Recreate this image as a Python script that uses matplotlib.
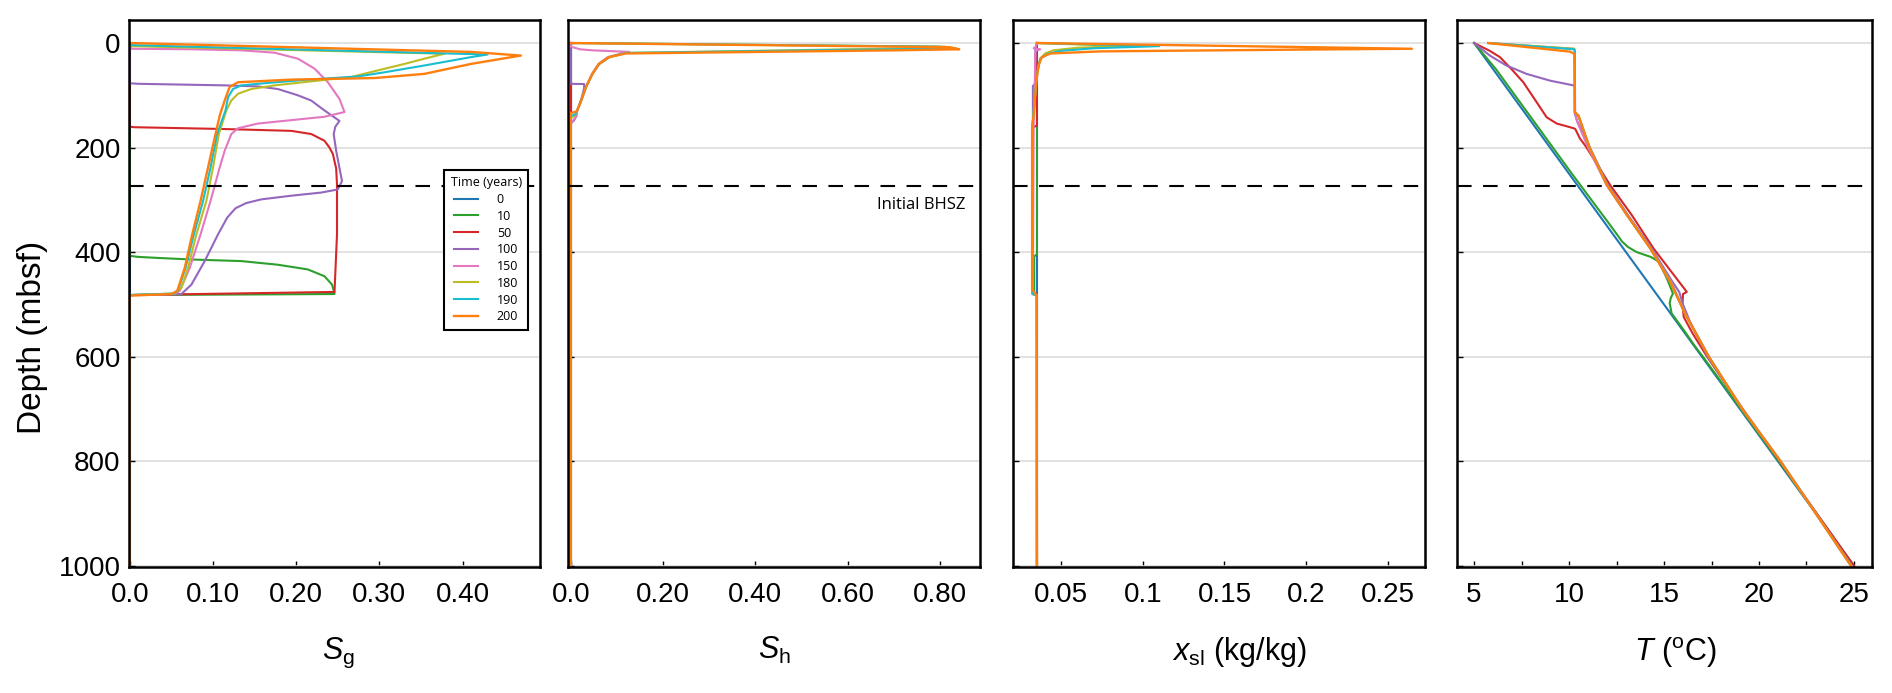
import matplotlib
matplotlib.use("Agg")
import matplotlib.pyplot as plt
import matplotlib.transforms as mtransforms
import numpy as np

plt.rcParams['font.family'] = ['Liberation Sans', 'DejaVu Sans']
plt.rcParams['mathtext.fontset'] = 'custom'
plt.rcParams['mathtext.rm'] = 'Liberation Sans'
plt.rcParams['mathtext.it'] = 'Liberation Sans:italic'

TIMES = [0, 10, 50, 100, 150, 180, 190, 200]
COLORS = ['#1f77b4', '#2ca02c', '#d62728', '#9467bd',
          '#e377c2', '#bcbd22', '#17becf', '#ff7f0e']
BHSZ = 273  # initial base of hydrate stability zone (mbsf)

# gas saturation, [depth, Sg]
sg_0 = [[0, 0], [1000, 0]]
sg_10 = [[0, 0], [407, 0], [409, 0.01], [411, 0.034], [414, 0.074], [417, 0.134],
         [424, 0.178], [433, 0.214], [446, 0.234], [462, 0.243], [478, 0.246],
         [480, 0.246], [482, 0], [1000, 0]]
sg_50 = [[0, 0], [160, 0], [161, 0.005], [164.5, 0.114], [168, 0.194], [174, 0.218],
         [187, 0.234], [200, 0.24], [212, 0.244], [240, 0.248], [270, 0.249],
         [366, 0.249], [476, 0.246], [482, 0], [1000, 0]]
sg_100 = [[0, 0], [77, 0], [78, 0.01], [81, 0.114], [83, 0.154], [88, 0.178],
          [100, 0.202], [110, 0.218], [129, 0.234], [149, 0.252], [160, 0.247],
          [174, 0.245], [206, 0.248], [264, 0.255], [280, 0.25], [286, 0.23],
          [292, 0.194], [299, 0.158], [306, 0.14], [316, 0.127], [334, 0.117],
          [366, 0.106], [417, 0.09], [462, 0.074], [480, 0.062], [482, 0],
          [1000, 0]]
sg_150 = [[0, 0], [11, 0.002], [12, 0.074], [14, 0.134], [18.5, 0.174], [30, 0.202],
          [49, 0.222], [75, 0.238], [107, 0.252], [132, 0.258], [141, 0.234],
          [154, 0.154], [163, 0.13], [174, 0.122], [206, 0.114], [238, 0.108],
          [302, 0.097], [366, 0.085], [430, 0.072], [474, 0.06], [480, 0.054],
          [482, 0], [1000, 0]]
sg_180 = [[0, 0], [6, 0.002], [20.5, 0.378], [30, 0.354], [40, 0.33], [54, 0.294],
          [65, 0.266], [74, 0.214], [81, 0.174], [88, 0.146], [97, 0.13],
          [110, 0.122], [129, 0.116], [149, 0.112], [174, 0.107], [238, 0.1],
          [302, 0.092], [366, 0.08], [430, 0.07], [468, 0.062], [479, 0.054],
          [482, 0], [1000, 0]]
sg_190 = [[0, 0], [4, 0.002], [22, 0.43], [27, 0.41], [43, 0.354], [56, 0.306],
          [64, 0.274], [70, 0.214], [78, 0.154], [81, 0.134], [88, 0.124],
          [104, 0.118], [129, 0.115], [142, 0.112], [174, 0.105], [238, 0.097],
          [302, 0.088], [366, 0.077], [430, 0.067], [472, 0.058], [479, 0.054],
          [482, 0], [1000, 0]]
sg_200 = [[0, 0], [17, 0.41], [24, 0.47], [40, 0.41], [59, 0.354], [67, 0.294],
          [70, 0.194], [75, 0.13], [84, 0.12], [110, 0.114], [129, 0.11],
          [139, 0.108], [174, 0.103], [238, 0.094], [302, 0.085], [366, 0.075],
          [430, 0.066], [474, 0.057], [480, 0.05], [483, 0], [1000, 0]]

# hydrate saturation, [depth, Sh]
sh_0 = [[0, 0], [1000, 0]]
sh_10 = [[0, 0], [1000, 0]]
sh_50 = [[0, 0], [1000, 0]]
sh_100 = [[0, 0], [78, 0], [78.5, 0.029], [86, 0.029], [104, 0.024], [129, 0.014],
          [140, 0.012], [148, 0.007], [152, 0.002], [154, 0], [1000, 0]]
sh_150 = [[0, 0], [7, 0], [12, 0.02], [14, 0.047], [17, 0.127], [20, 0.11],
          [27, 0.08], [40, 0.06], [59, 0.046], [84, 0.033], [104, 0.025],
          [116, 0.02], [129, 0.014], [138, 0.012], [145, 0.008], [150, 0.003],
          [152, 0], [1000, 0]]
sh_180 = [[0, 0], [7, 0.81], [10, 0.835], [12, 0.6], [19, 0.12], [27, 0.084],
          [40, 0.062], [59, 0.047], [84, 0.033], [104, 0.025], [116, 0.02],
          [129, 0.014], [138, 0.01], [143, 0], [1000, 0]]
sh_190 = [[0, 0], [7, 0.8], [11, 0.815], [13, 0.6], [19, 0.12], [27, 0.084],
          [40, 0.062], [59, 0.047], [84, 0.033], [104, 0.025], [116, 0.02],
          [129, 0.014], [136, 0.01], [140, 0], [1000, 0]]
sh_200 = [[0, 0], [8, 0.82], [12, 0.842], [14, 0.7], [20, 0.119], [27, 0.083],
          [40, 0.061], [59, 0.047], [84, 0.033], [104, 0.025], [116, 0.02],
          [128, 0.014], [131, 0.012], [134, 0], [1000, 0]]

# salt mass fraction, [depth, xsl]
xs_0 = [[0, 0.0352], [1000, 0.0352]]
xs_10 = [[0, 0.035], [404, 0.035], [408, 0.0333], [479, 0.0333], [482, 0.035],
         [1000, 0.035]]
xs_50 = [[0, 0.035], [158, 0.035], [162, 0.032], [190, 0.032], [480, 0.0325],
         [482, 0.035], [1000, 0.035]]
xs_100 = [[0, 0.035], [12, 0.034], [78, 0.034], [82, 0.0325], [480, 0.0325],
          [482, 0.035], [1000, 0.035]]
xs_150 = [[0, 0.035], [8, 0.034], [10, 0.033], [12, 0.037], [14, 0.0345],
          [20, 0.034], [100, 0.0335], [150, 0.033], [480, 0.0325], [482, 0.035],
          [1000, 0.035]]
xs_180 = [[0, 0.035], [6, 0.09], [9, 0.06], [14, 0.045], [20, 0.04], [30, 0.037],
          [60, 0.035], [130, 0.033], [160, 0.0322], [480, 0.0322], [482, 0.035],
          [1000, 0.035]]
xs_190 = [[0, 0.035], [6, 0.11], [10, 0.07], [15, 0.05], [20, 0.042], [30, 0.037],
          [60, 0.035], [130, 0.033], [160, 0.0322], [480, 0.0322], [482, 0.035],
          [1000, 0.035]]
xs_200 = [[0, 0.035], [11, 0.265], [12.5, 0.2], [16, 0.074], [20, 0.0433],
          [27, 0.038], [42, 0.036], [71, 0.0347], [137, 0.033], [163, 0.032],
          [471, 0.032], [482, 0.0347], [1000, 0.035]]

# temperature, [depth, T]
t_0 = [[0, 5], [1000, 25]]
t_10 = [[0, 5], [50, 6.15], [150, 8.15], [250, 10.15], [350, 12.2], [380, 12.8],
        [390, 13.1], [400, 13.57], [409, 14.3], [418, 14.72], [450, 15.15],
        [479, 15.47], [488, 15.35], [498, 15.3], [517, 15.4], [549, 16.04],
        [581, 16.65], [600, 17.05], [700, 19.05], [800, 21.05], [1000, 25]]
t_50 = [[0, 5], [15, 5.83], [27, 6.36], [50, 6.97], [75, 7.59], [113, 8.29],
        [142, 8.82], [154, 9.35], [161, 10.05], [164, 10.32], [183, 10.58],
        [196, 10.85], [272, 12.17], [329, 13.3], [393, 14.45], [476, 16.2],
        [480, 16.0], [501, 15.97], [524, 16.04], [555, 16.5], [600, 17.27],
        [700, 19.15], [800, 21.1], [1000, 25]]
t_100 = [[0, 5], [24, 5.83], [43, 6.7], [59, 7.76], [72, 9.0], [81, 10.23],
         [82, 10.3], [135, 10.3], [151, 10.45], [200, 11.1], [272, 12.05],
         [329, 13.1], [393, 14.35], [457, 15.45], [476, 15.8], [500, 16.0],
         [536, 16.4], [600, 17.3], [700, 19.12], [800, 21.12], [1000, 24.9]]
t_150 = [[0, 5.74], [11, 10.25], [13, 10.3], [132, 10.32], [150, 10.42],
         [200, 11.0], [272, 11.98], [329, 13.05], [393, 14.3], [457, 15.38],
         [517, 16.12], [600, 17.36], [700, 19.12], [800, 21.14], [1000, 24.87]]
t_180 = [[0, 5.74], [11, 10.27], [14, 10.3], [132, 10.31], [140, 10.5],
         [202, 11.1], [272, 12.0], [329, 13.05], [393, 14.28], [457, 15.35],
         [517, 16.1], [600, 17.36], [700, 19.12], [800, 21.14], [1000, 24.86]]
t_190 = [[0, 5.74], [12, 10.27], [16, 10.3], [132, 10.31], [140, 10.5],
         [202, 11.1], [272, 12.0], [329, 13.05], [393, 14.28], [457, 15.34],
         [517, 16.1], [600, 17.36], [700, 19.12], [800, 21.14], [1000, 24.85]]
t_200 = [[0, 5.74], [16.5, 10.05], [21, 10.28], [132, 10.3], [139, 10.5],
         [202, 11.1], [272, 12.0], [329, 13.05], [393, 14.28], [457, 15.33],
         [517, 16.1], [600, 17.36], [700, 19.12], [800, 21.14], [1000, 24.85]]

SG = [sg_0, sg_10, sg_50, sg_100, sg_150, sg_180, sg_190, sg_200]
SH = [sh_0, sh_10, sh_50, sh_100, sh_150, sh_180, sh_190, sh_200]
XS = [xs_0, xs_10, xs_50, xs_100, xs_150, xs_180, xs_190, xs_200]
TT = [t_0, t_10, t_50, t_100, t_150, t_180, t_190, t_200]

panels = [
    (SG, r'$S_{\rm g}$', (-0.001, 0.493), [0, 0.1, 0.2, 0.3, 0.4],
     ['0.0', '0.10', '0.20', '0.30', '0.40'], 0.51),
    (SH, r'$S_{\rm h}$', (-0.006, 0.887), [0, 0.2, 0.4, 0.6, 0.8],
     ['0.0', '0.20', '0.40', '0.60', '0.80'], 0.5),
    (XS, r'$x_{\rm sl}$ (kg/kg)', (0.0203, 0.273), [0.05, 0.1, 0.15, 0.2, 0.25],
     ['0.05', '0.1', '0.15', '0.2', '0.25'], 0.55),
    (TT, r'$T$ ($^{\rm o}$C)', (4.1, 25.95), [5, 10, 15, 20, 25],
     ['5', '10', '15', '20', '25'], 0.525),
]

W, H = 1892, 693
lefts = [129, 568, 1013, 1457]
rights = [540, 980, 1425, 1872]
top, bottom = 20, 567

fig = plt.figure(figsize=(W / 100, H / 100), dpi=100)
axes = []
for i, (profiles, xlabel, xlim, xt, xtl, xlab_x) in enumerate(panels):
    ax = fig.add_axes([lefts[i] / W, (H - bottom) / H,
                       (rights[i] - lefts[i]) / W, (bottom - top) / H])
    axes.append(ax)
    for prof, c, t in zip(profiles, COLORS, TIMES):
        a = np.array(prof, dtype=float)
        ax.plot(a[:, 1], a[:, 0], color=c, lw=1.7 if t == 200 else 1.5,
                label=str(t), solid_joinstyle='round')
    ax.axhline(BHSZ, color='k', lw=1.5, ls=(0, (7, 5.5)), zorder=3)
    ax.set_ylim(1002, -44)
    ax.set_xlim(*xlim)
    ax.set_xticks(xt)
    ax.set_xticklabels(xtl)
    ax.set_yticks(np.arange(0, 1001, 200))
    ax.grid(axis='y', color='#dddddd', lw=1.2)
    ax.set_axisbelow(True)
    ax.tick_params(direction='in', length=4, width=1, labelsize=20)
    ax.tick_params(axis='x', pad=11)
    ax.tick_params(axis='y', pad=6)
    if i > 0:
        ax.set_yticklabels([])
    for s in ax.spines.values():
        s.set_linewidth(1.8)
    ax.set_xlabel(xlabel, fontsize=22)
    ax.xaxis.set_label_coords(xlab_x, -0.125)

axes[3].set_xticks([7.5, 12.5, 17.5, 22.5], minor=True)
axes[3].tick_params(which='minor', direction='in', length=4, width=1)

axes[0].set_ylabel('Depth (mbsf)', fontsize=24)
axes[0].yaxis.set_label_coords(-0.197, 0.42)

leg = axes[0].legend(title='Time (years)', loc='upper left',
                     bbox_to_anchor=(0.752, 0.737), fancybox=False,
                     edgecolor='k', framealpha=1, handlelength=1.9,
                     handletextpad=1.5, labelspacing=0.3, borderpad=0.5,
                     prop={'family': 'Open Sans', 'size': 9})
leg.get_title().set_fontfamily('Open Sans')
leg.get_title().set_fontsize(9)
leg.get_frame().set_linewidth(1.5)
leg.set_zorder(5)

trans = mtransforms.blended_transform_factory(axes[1].transAxes, axes[1].transData)
axes[1].text(0.964, 310, 'Initial BHSZ', transform=trans, ha='right',
             va='center', fontsize=12, family='Open Sans')

fig.savefig('out.png', dpi=100)
